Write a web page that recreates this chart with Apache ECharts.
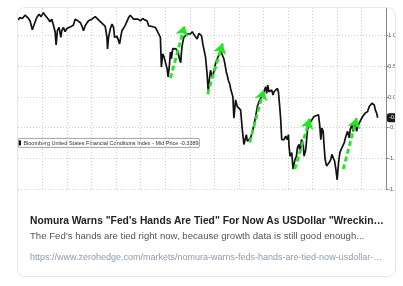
<!DOCTYPE html>
<html>
<head>
<meta charset="utf-8">
<script src="https://cdn.jsdelivr.net/npm/echarts@6/dist/echarts.min.js"></script>
<style>
html,body{margin:0;padding:0;background:#fff;}
body{width:403px;height:286px;position:relative;overflow:hidden;font-family:"Liberation Sans",Arial,sans-serif;}
#card{position:absolute;left:17px;top:7px;width:379px;height:270px;box-sizing:border-box;border:1px solid #e8e8e8;border-radius:8px;overflow:hidden;background:#fff;}
#chart{position:absolute;left:0;top:-3px;width:378px;height:192px;}
.t{position:absolute;left:12px;white-space:nowrap;}
#title{top:206px;font-size:10.3px;line-height:13px;font-weight:bold;color:#222;}
#desc{top:222px;font-size:9.6px;line-height:12px;color:#555;}
#url{top:244px;font-size:9px;line-height:10px;color:#8d9bad;}
</style>
</head>
<body>
<div id="card">
  <div id="chart"></div>
  <div class="t" id="title">Nomura Warns "Fed's Hands Are Tied" For Now As USDollar "Wreckin…</div>
  <div class="t" id="desc">The Fed’s hands are tied right now, because growth data is still good enough...</div>
  <div class="t" id="url">https://www.zerohedge.com/markets/nomura-warns-feds-hands-are-tied-now-usdollar-…</div>
</div>
<script>
// Trading-day index (x) and index level (y)
var day = [0,2,4.3,7,9.7,12,14.3,16.3,18.7,21,23,25.3,27,28.7,30.3,32,33.7,35.3,37,38,39.3,41,42.7,43.7,45.3,47,48.7,50.3,53,55.3,
57,59.7,62,63.7,65.3,67,68.7,70.3,72,73.7,75.3,77,78.7,80.3,82,83.7,85.3,87,88.7,89.3,90.3,92,93.7,95.3,96.3,97.7,98.7,100.3,101.3,102.7,
103.7,105.3,107,108.7,110.3,112,113.7,115.3,117,119.7,122,124.3,126.3,128.7,130.3,132,133.7,135.3,137,138.7,140.3,142,143,144.3,145.7,147,148.7,149.7,151,152,
153,154.3,156,157.7,159.7,161,162.3,163,163.7,165.3,167,168.7,170.3,172,173.7,176.3,178.7,180.3,182,183,184.3,185.3,187,188.7,189.7,191,192,193.7,195.3,197,
198.7,200.3,202,203.7,205.3,206.3,207.7,208.7,209.7,211,212,213.7,214.3,215.3,217,218.7,220.3,222,223.7,225.3,227.7,228.7,230.3,232,234.3,237,238.7,240.3,242,243.7,
245.3,247,248,249,250.3,252,253,254.3,255.3,257,258.7,259.7,260.3,261,262,263,265.3,267,268.7,269.7,270.3,271.3,273,274.3,275.3,276.3,277.7,278.7,280.3,281.3,
282.7,284.3,285.3,287,288.7,290.3,292,293.7,295.3,297,299.7,301,302,303,304.3,305.3,306.3,307.7,309,310.3,312,313,314.3,315.7,317,318.3,319.7,321,322.3,323.7,
325.3,327,328.7,330.3,331.3,333,334.3,335.3,336.3,337.7,339,340.3,342,343.7,345.3,346.3,347.7,348.7,350.3,352,353,354.3,355.3,356.3,357.7,358.7];
var fci = [1.258,1.295,1.279,1.334,1.295,1.242,1.097,1.189,1.295,1.350,1.311,1.376,1.334,1.366,1.269,1.226,1.269,1.173,1.065,0.850,1.081,1.134,0.973,1.081,1.134,1.065,1.118,1.097,1.150,1.173,
1.266,1.242,1.215,1.161,1.081,1.161,1.205,1.242,1.258,1.269,1.295,1.311,1.279,1.258,1.242,1.205,1.189,1.150,0.973,0.785,0.973,1.108,1.189,1.134,0.973,0.947,0.989,0.919,0.866,1.000,
1.081,1.097,1.173,1.150,1.295,1.334,1.323,1.269,1.295,1.269,1.242,1.279,1.258,1.242,1.161,1.189,1.150,1.118,1.134,1.081,1.053,0.973,0.489,0.705,0.650,0.624,0.463,0.327,0.516,0.731,
0.624,0.790,0.811,0.785,0.731,0.624,0.560,0.731,0.839,0.973,0.989,1.027,1.053,1.027,1.065,1.000,0.947,1.037,1.053,1.000,0.866,0.839,0.650,0.355,0.085,0.302,0.435,0.327,0.408,0.544,
0.624,0.677,0.758,0.731,0.624,0.544,0.408,0.355,0.274,0.221,0.140,0.166,0.005,-0.344,-0.048,-0.156,-0.182,-0.210,-0.532,-0.774,-0.613,-0.721,-0.747,-0.666,-0.532,-0.318,-0.156,-0.076,-0.021,0.005,
0.085,0.166,0.060,0.194,0.085,0.060,0.113,0.032,0.085,0.113,0.140,0.085,0.060,-0.156,-0.371,-0.694,-0.694,-0.640,-0.694,-0.613,-0.802,-0.963,-0.908,-1.177,-1.150,-1.016,-0.963,-0.827,-0.774,-0.908,
-0.694,-0.747,-0.963,-0.855,-0.532,-0.452,-0.398,-0.371,-0.318,-0.290,-0.290,-0.479,-0.694,-0.505,-0.560,-0.802,-1.016,-1.124,-1.097,-1.069,-1.016,-0.935,-0.963,-1.044,-1.177,-1.350,-1.069,-0.908,-0.855,-0.827,
-0.747,-0.640,-0.560,-0.666,-0.532,-0.452,-0.560,-0.479,-0.424,-0.560,-0.479,-0.424,-0.398,-0.318,-0.344,-0.263,-0.290,-0.237,-0.156,-0.129,-0.102,-0.102,-0.129,-0.210,-0.263,-0.3389];
// Green rally arrows: start/end day and level
var arrowX0 = [152,189,231,276,324.3];
var arrowY0 = [0.306,0.048,-0.742,-1.177,-1.177];
var arrowX1 = [166,204,245,291,337.7];
var arrowY1 = [1.161,0.871,0.113,-0.355,-0.344];
var yTicks = [-1.5,-1.0,-0.5,0.0,0.5,1.0,1.5];
var seriesName = 'Bloomberg United States Financial Conditions Index - Mid Price';
var lastPrice = -0.3389;

var lineData = day.map(function(d,i){return [d,fci[i]];});
var arrows = arrowX0.map(function(x,i){return {coords:[[x,arrowY0[i]],[arrowX1[i],arrowY1[i]]]};});

var chart = echarts.init(document.getElementById('chart'), null, {renderer:'canvas'});
chart.setOption({
  animation:false,
  grid:{left:0,right:10,top:0,bottom:8,containLabel:false,outerBoundsMode:'none'},
  xAxis:{type:'value',min:0,max:367,interval:24.47,
    axisLine:{show:false,onZero:false},axisTick:{show:false},axisLabel:{show:false},
    splitLine:{show:true,showMinLine:false,lineStyle:{color:'#cfcfcf',width:1,type:[1,2]}}},
  yAxis:{type:'value',position:'right',min:yTicks[0],max:yTicks[yTicks.length-1],interval:0.5,
    axisLine:{show:true,onZero:false,lineStyle:{color:'#888',width:1}},
    axisTick:{show:true,length:2,lineStyle:{color:'#777'}},
    axisLabel:{show:true,showMaxLabel:false,fontSize:6,color:'#555',margin:2,fontFamily:'Liberation Sans',
      formatter:function(v){return v.toFixed(1);}},
    splitLine:{show:true,showMaxLine:false,lineStyle:{color:'#cfcfcf',width:1,type:[1,2]}}},
  series:[
    {type:'line',name:seriesName,data:lineData,showSymbol:false,symbol:'none',
     lineStyle:{color:'#111',width:1.7},itemStyle:{color:'#111'},z:3,
     markLine:{silent:true,symbol:'none',
       lineStyle:{color:'transparent',width:0},
       label:{show:true,position:'end',distance:1,formatter:lastPrice.toFixed(4),
         backgroundColor:'#1a1a1a',color:'#fff',fontSize:5.5,padding:[1.5,2],borderRadius:2},
       data:[{yAxis:lastPrice}]}},
    {type:'lines',coordinateSystem:'cartesian2d',data:arrows,z:4,
     symbol:['none','arrow'],symbolSize:[9,10],
     lineStyle:{color:'#25e325',width:2.8,type:[5,3],opacity:1}}
  ],
  graphic:[
    {type:'group',left:0,top:133,children:[
      {type:'rect',shape:{x:0,y:0,width:181,height:9,r:1},style:{fill:'#fff',stroke:'#8a8a8a',lineWidth:0.8}},
      {type:'rect',shape:{x:0.5,y:2,width:2,height:5},style:{fill:'#000'}},
      {type:'text',x:5,y:4.7,style:{text:seriesName+' '+lastPrice.toFixed(4),fontSize:5.5,fill:'#333',
        fontFamily:'Liberation Sans',verticalAlign:'middle'}}
    ]}
  ]
});
</script>
</body>
</html>
